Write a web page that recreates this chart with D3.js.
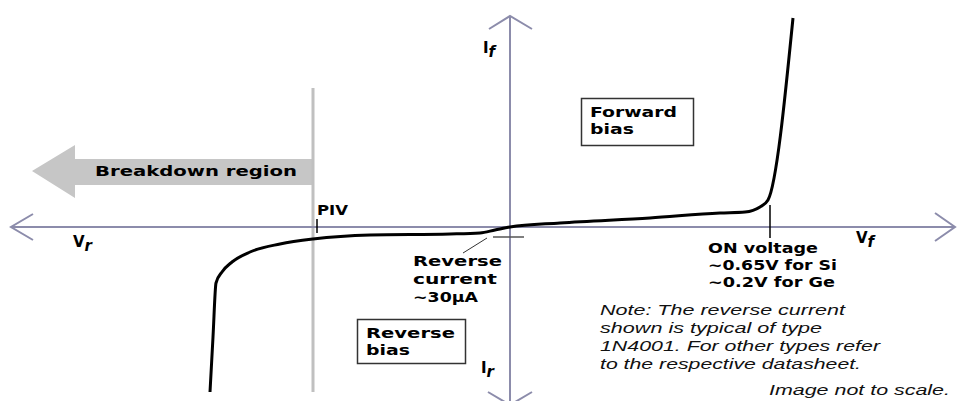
<!DOCTYPE html>
<html>
<head>
  <meta charset="utf-8" />
  <title>Diode I-V characteristic</title>
  <script src="https://cdnjs.cloudflare.com/ajax/libs/d3/7.8.5/d3.min.js"></script>
  <style>
    body { margin: 0; background: #fff; }
    svg { display: block; }
    .lbl { font-family: "DejaVu Sans", sans-serif; font-weight: bold; font-size: 14px; fill: #000; }
    .note { font-family: "Liberation Sans", Arial, sans-serif; font-style: italic; font-size: 14px; fill: #111; }
  </style>
</head>
<body>
  <svg id="chart" width="957" height="401"></svg>
  <script>
    // curve: voltage (arbitrary units, not to scale) and current
    let voltage = [-3.00, -2.97, -2.94, -2.88, -2.78, -2.60, -2.30, -1.97, -1.40, -0.60, -0.30, -0.15, 0, 0.50, 1.40, 2.10, 2.35, 2.50, 2.58, 2.83]
    let current = [-16.5, -11.0, -5.6, -4.5, -3.5, -2.5, -1.7, -1.2, -0.8, -0.7, -0.6, -0.3, 0, 0.4, 0.9, 1.4, 1.5, 2.0, 2.7, 20.9]

    let pivVoltage = -1.97
    let onVoltage = 2.6
    let reverseCurrent = -1.0

    let breakdownLabel = 'Breakdown region'
    let reverseCurrentLines = ['Reverse', 'current', '~30\u00b5A']
    let forwardLines = ['Forward', 'bias']
    let reverseLines = ['Reverse', 'bias']
    let onLines = ['ON voltage', '~0.65V for Si', '~0.2V for Ge']
    let noteLines = ['Note: The reverse current', 'shown is typical of  type', '1N4001. For other types refer', 'to the respective datasheet.']
    let scaleNote = 'Image not to scale.'

    let svg = d3.select('#chart')
    let x = d3.scaleLinear().domain([-5, 4.47]).range([10, 957])
    let y = d3.scaleLinear().domain([-17.4, 21.1]).range([401, 16])

    // breakdown arrow (behind everything)
    let ax = x(pivVoltage) - 1
    svg.append('path')
      .attr('d', `M${ax},159 L75,159 L75,145 L32,171 L75,198 L75,185 L${ax},185 Z`)
      .attr('fill', '#c6c6c6')

    function txt(t, x0, y0, len, cls) {
      let e = svg.append('text').attr('class', cls || 'lbl').attr('x', x0).attr('y', y0).text(t)
      if (len) e.attr('textLength', len).attr('lengthAdjust', 'spacingAndGlyphs')
      return e
    }
    function lines(arr, x0, y0, lh, lens, cls) {
      arr.forEach(function(t, i) { txt(t, x0, y0 + i * lh, lens ? lens[i] : null, cls) })
    }

    txt(breakdownLabel, 95, 176, 202)

    // PIV line
    svg.append('line')
      .attr('x1', x(pivVoltage)).attr('x2', x(pivVoltage))
      .attr('y1', 88).attr('y2', 392)
      .attr('stroke', '#c0c0c0').attr('stroke-width', 3)

    // axes
    let axisColor = '#8c8cab'
    let axes = svg.append('g').attr('stroke', axisColor).attr('stroke-width', 2).attr('fill', 'none')
    axes.append('line').attr('x1', x(-4.99)).attr('x2', x(4.45)).attr('y1', y(0)).attr('y2', y(0))
    axes.append('line').attr('x1', x(0)).attr('x2', x(0)).attr('y1', y(21.1)).attr('y2', y(-17.8))
    axes.append('path').attr('d', `M${x(-4.77)},${y(1.3)} L${x(-4.99)},${y(0)} L${x(-4.77)},${y(-1.3)}`)
    axes.append('path').attr('d', `M${x(4.25)},${y(1.4)} L${x(4.45)},${y(0)} L${x(4.25)},${y(-1.4)}`)
    axes.append('path').attr('d', `M${x(-0.21)},${y(19.8)} L${x(0)},${y(21.1)} L${x(0.22)},${y(19.8)}`)
    axes.append('path').attr('d', `M${x(-0.22)},${y(-16.5)} L${x(0)},${y(-17.8)} L${x(0.22)},${y(-16.5)}`)

    // ticks
    svg.append('line')
      .attr('x1', x(pivVoltage) + 4).attr('x2', x(pivVoltage) + 4)
      .attr('y1', y(0.8)).attr('y2', y(-0.6))
      .attr('stroke', '#000').attr('stroke-width', 1.5)
    svg.append('line')
      .attr('x1', x(onVoltage)).attr('x2', x(onVoltage))
      .attr('y1', y(2.2)).attr('y2', y(-1.1))
      .attr('stroke', '#000').attr('stroke-width', 1.5)
    svg.append('line')
      .attr('x1', x(-0.17)).attr('x2', x(0.14))
      .attr('y1', y(reverseCurrent)).attr('y2', y(reverseCurrent))
      .attr('stroke', '#555').attr('stroke-width', 1.5)
    svg.append('line')
      .attr('x1', 463).attr('y1', 253).attr('x2', 487).attr('y2', 238)
      .attr('stroke', '#333').attr('stroke-width', 1)

    // the curve
    let line = d3.line()
      .x(function(d, i) { return x(voltage[i]) })
      .y(function(d, i) { return y(current[i]) })
      .curve(d3.curveMonotoneX)
    svg.append('path')
      .attr('d', line(voltage))
      .attr('fill', 'none').attr('stroke', '#000').attr('stroke-width', 3)
      .attr('stroke-linejoin', 'round')

    // text labels
    txt('PIV', x(pivVoltage) + 4, 215, 31)
    lines(reverseCurrentLines, 413, 266, 18, [89, 84, 65])

    svg.append('rect').attr('x', 581.5).attr('y', 98.5).attr('width', 112).attr('height', 47)
      .attr('fill', 'none').attr('stroke', '#333').attr('stroke-width', 1.5)
    lines(forwardLines, 590, 117, 17, [87, 44])

    svg.append('rect').attr('x', 357.5).attr('y', 319.5).attr('width', 108).attr('height', 44)
      .attr('fill', 'none').attr('stroke', '#333').attr('stroke-width', 1.5)
    lines(reverseLines, 366, 338, 17, [89, 44])

    lines(onLines, 708, 253, 17, [110, 129, 127])

    // axis names with subscripts
    function sub(main, s, x0, y0) {
      let t = svg.append('text').attr('class', 'lbl').attr('x', x0).attr('y', y0).style('font-size', '15px')
      t.append('tspan').text(main)
      t.append('tspan').attr('dy', 4).style('font-style', 'italic').text(s)
    }
    sub('V', 'r', 73, 247)
    sub('V', 'f', 856, 243)
    sub('I', 'f', 483, 53)
    sub('I', 'r', 481, 373)

    lines(noteLines, 600, 315, 18, [245, 222, 280, 261], 'note')
    txt(scaleNote, 769, 395, 181, 'note')
  </script>
</body>
</html>
